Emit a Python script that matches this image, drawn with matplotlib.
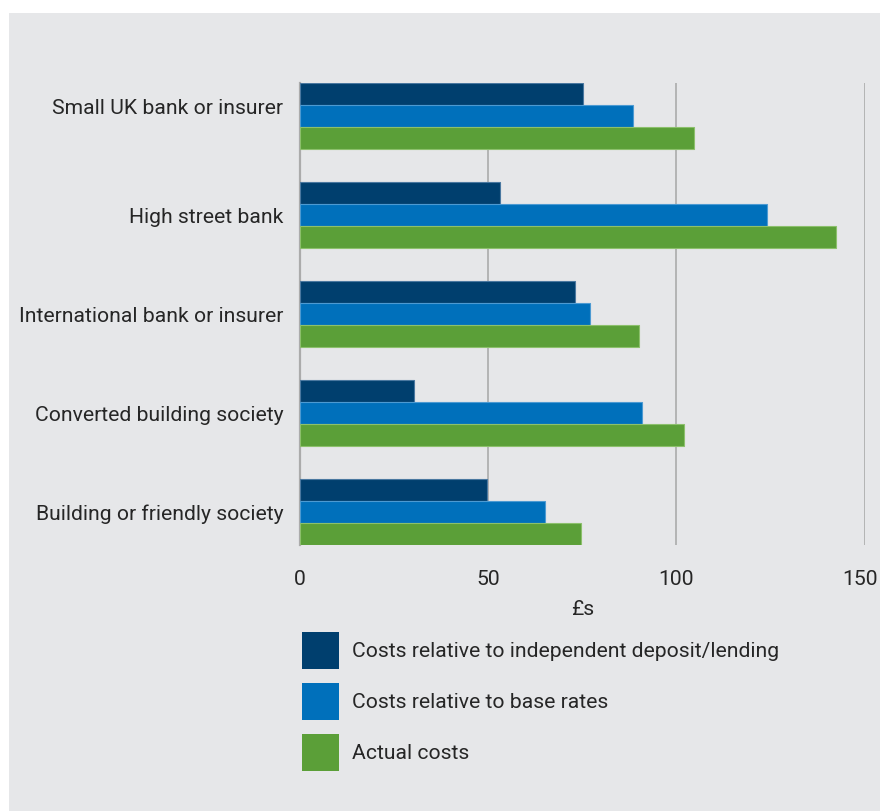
import numpy as np
import matplotlib
matplotlib.use("Agg")
import matplotlib.pyplot as plt
import matplotlib.transforms as mtransforms
from matplotlib.patches import Rectangle

plt.rcParams['font.family'] = ['Roboto', 'DejaVu Sans']

categories = ["Small UK bank or insurer", "High street bank",
              "International bank or insurer", "Converted building society",
              "Building or friendly society"]
independent = [75.3, 53.2, 73.2, 30.3, 49.7]
base_rates = [88.5, 124.1, 77.0, 90.8, 65.2]
actual = [104.7, 142.5, 90.0, 102.1, 74.8]

series_names = ["Costs relative to independent deposit/lending",
                "Costs relative to base rates", "Actual costs"]
colors = ["#003f6e", "#0070bb", "#5b9f38"]
edges = ["#4a78a0", "#4c9ad2", "#8cc06c"]

xticks = [0, 50, 100, 150]
bg = "#e6e7e9"
txt = "#262626"
fs = 15.2

W, H = 880, 811
fig = plt.figure(figsize=(W / 100, H / 100), dpi=100)
fig.patch.set_facecolor("white")
fig.patches.append(Rectangle((9 / W, 0), 1, 1 - 13 / H, transform=fig.transFigure,
                             facecolor=bg, edgecolor="none", zorder=-10))

ax = fig.add_axes([300 / W, 266 / H, 564.5 / W, 461.7 / H])
ax.patch.set_alpha(0)

y = np.arange(len(categories))
h = 2 / 9
for i, vals in enumerate([independent, base_rates, actual]):
    ax.barh(y - h + i * h, vals, height=h, color=colors[i], edgecolor=edges[i],
            linewidth=0.8, zorder=3, label=series_names[i])

ax.set_xlim(0, 150)
ax.set_ylim(len(categories) - 1 + 1 / 3, -1 / 3)
ax.set_xticks(xticks)
ax.set_xticklabels([str(t) for t in xticks])
ax.set_yticks(y)
ax.set_yticklabels(categories)
ax.tick_params(axis="both", length=0, labelsize=fs, colors=txt)
ax.tick_params(axis="x", pad=18)
ax.tick_params(axis="y", pad=12)
ax.grid(axis="x", color="#ababab", linewidth=1.2, zorder=1)
for s in ["top", "right", "bottom"]:
    ax.spines[s].set_visible(False)
ax.spines["left"].set_color("#ababab")
ax.spines["left"].set_linewidth(1.6)
ax.set_xlabel("£s", fontsize=fs, color=txt, labelpad=8)

# first category label sits a little above its bar group
first = ax.get_yticklabels()[0]
first.set_transform(first.get_transform() +
                    mtransforms.ScaledTranslation(0, 10 / 100, fig.dpi_scale_trans))
# keep the last x tick label inside the figure
last = ax.get_xticklabels()[-1]
last.set_transform(last.get_transform() +
                   mtransforms.ScaledTranslation(-4 / 100, 0, fig.dpi_scale_trans))

# legend: colour squares with labels underneath the axis
for i, (name, c) in enumerate(zip(series_names, colors)):
    top = 632 + i * 51
    fig.patches.append(Rectangle((302 / W, 1 - (top + 37) / H), 37 / W, 37 / H,
                                 transform=fig.transFigure, facecolor=c,
                                 edgecolor="none"))
    fig.text(352 / W, 1 - (top + 19.5) / H, name, fontsize=fs, color=txt,
             ha="left", va="center")

fig.savefig("out.png", dpi=100, facecolor=fig.get_facecolor())
